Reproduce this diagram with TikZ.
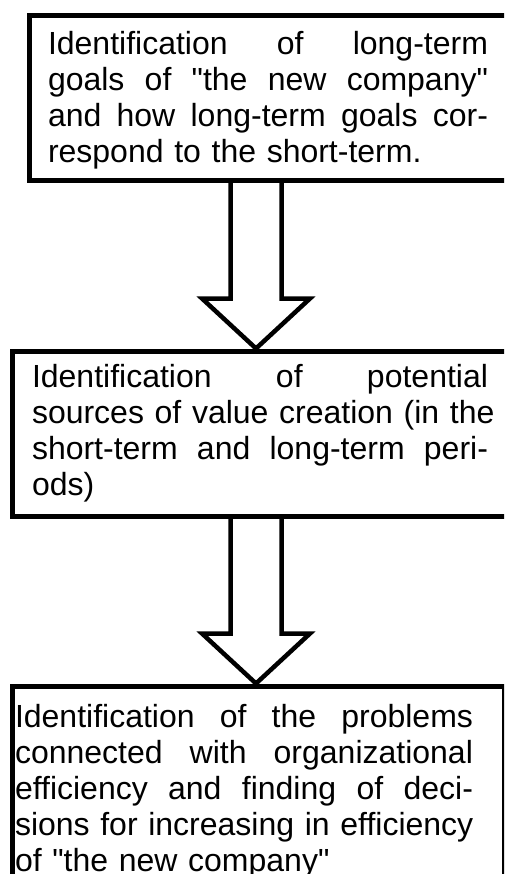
\documentclass[tikz,border=0pt]{standalone}
\usepackage{fontspec}
\setmainfont{Liberation Sans}[Ligatures=TeXOff]
\usetikzlibrary{calc}
\newcommand\jline[2]{\leavevmode\hbox to #1{#2}}
\begin{document}
\begin{tikzpicture}[x=1pt,y=-1pt,
  stepbox/.style={rectangle, inner sep=0pt, outer sep=0pt, anchor=north west},
  border/.style={line width=5pt, line join=miter},
  txt/.style={inner sep=0pt, outer sep=0pt, anchor=north west, align=left, font=\fontsize{32}{36}\selectfont},
  blockarrow/.style={draw=black, line width=4.5pt, fill=white, line join=miter}]
\useasboundingbox (0,0) rectangle (504,874);
\clip (0,0) rectangle (504,874);
% boxes (shapes only; borders drawn below)
\node[stepbox, minimum width=490pt, minimum height=165pt] (b1) at (29.5,15.5) {};
\node[stepbox, minimum width=505pt, minimum height=165pt] (b2) at (12.5,351) {};
\node[stepbox, minimum width=492pt, minimum height=220pt] (b3) at (12.5,686) {};
\coordinate (ax) at (256,0);
% block arrows
\draw[blockarrow] ($(b1.south -| ax)+(-25.5,0)$) -- ($(b2.north -| ax)+(-25.5,-52.5)$) -- ($(b2.north -| ax)+(-54,-52.5)$) -- ($(b2.north -| ax)+(0,-2.5)$) -- ($(b2.north -| ax)+(54,-52.5)$) -- ($(b2.north -| ax)+(25.5,-52.5)$) -- ($(b1.south -| ax)+(25.5,0)$);
\draw[blockarrow] ($(b2.south -| ax)+(-25.5,0)$) -- ($(b3.north -| ax)+(-25.5,-52.5)$) -- ($(b3.north -| ax)+(-54,-52.5)$) -- ($(b3.north -| ax)+(0,-2.5)$) -- ($(b3.north -| ax)+(54,-52.5)$) -- ($(b3.north -| ax)+(25.5,-52.5)$) -- ($(b2.south -| ax)+(25.5,0)$);
% borders (boxes 1 and 2 run off the right edge)
\draw[border] (b1.north east) -- (b1.north west) -- (b1.south west) -- (b1.south east);
\draw[border] (b2.north east) -- (b2.north west) -- (b2.south west) -- (b2.south east);
\draw[border] (b3.north west) rectangle (b3.south east);
% texts (justified lines)
\node[txt, text width=440pt] (t1) at (48,31.2) {\jline{440pt}{Identification \hfill of \hfill long-term}\\
\jline{440pt}{goals \hfill of \hfill "the \hfill new \hfill company"}\\
\jline{440pt}{and \hfill how \hfill long-term \hfill goals \hfill cor-}\\
respond to the short-term.};
\node[txt, text width=456pt] (t2) at (32,364.7) {\jline{456pt}{Identification \hfill of \hfill potential}\\
\jline{456pt}{sources \hfill of \hfill value \hfill creation \hfill (in \hfill the}\\
\jline{456pt}{short-term \hfill and \hfill long-term \hfill peri-}\\
ods)};
\node[txt, text width=458pt] (t3) at (15,704.7) {\jline{458pt}{Identification \hfill of \hfill the \hfill problems}\\
\jline{458pt}{connected \hfill with \hfill organizational}\\
\jline{458pt}{efficiency \hfill and \hfill finding \hfill of \hfill deci-}\\
\jline{458pt}{sions \hfill for \hfill increasing \hfill in \hfill efficiency}\\
of "the new company"};
\end{tikzpicture}
\end{document}
